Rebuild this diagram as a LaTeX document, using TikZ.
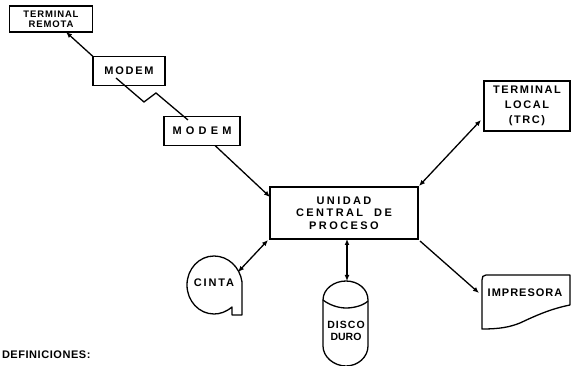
\documentclass[tikz,border=0pt]{standalone}
\usepackage{fontspec}
\setmainfont{Liberation Sans}
\usetikzlibrary{arrows.meta,calc}
\newcommand{\trk}[1]{\addfontfeatures{LetterSpace=#1}}
\tikzset{
 lbl/.style={inner sep=0pt,outer sep=0pt,align=center,font=\fontsize{11}{12}\selectfont\bfseries},
 box/.style={lbl,draw,line width=1.3pt},
 shapeline/.style={line width=1.3pt,line join=round},
 conn/.style={line width=1.3pt},
 one/.style={conn,-{Latex[length=6pt,width=5pt]}},
 two/.style={conn,{Latex[length=6pt,width=5pt]}-{Latex[length=6pt,width=5pt]}}
}
\begin{document}
\begin{tikzpicture}[x=1pt,y=-1pt]
\useasboundingbox (0,0) rectangle (571,366);
% boxes
\node[box,minimum width=83,minimum height=26,font=\fontsize{9.5}{10}\selectfont\bfseries] (rem) at (51,19) {\trk{9}TERMINAL\\\trk{9}REMOTA};
\node[box,minimum width=72,minimum height=29] (mod1) at (129,71) {\trk{16}MODEM};
\node[box,minimum width=76,minimum height=29] (mod2) at (202,131) {\trk{38}MODEM};
\node[box,minimum width=148,minimum height=52,font=\fontsize{11}{12.5}\selectfont\bfseries] (cpu) at (344,213) {\trk{22}UNIDAD\\\trk{22}CENTRAL\ \ DE\\\trk{22}PROCESO};
\node[box,minimum width=86,minimum height=50,font=\fontsize{11}{15}\selectfont\bfseries] (loc) at (527,106) {\trk{14}TERMINAL\\\trk{14}LOCAL\\\trk{14}(TRC)};
% printer
\node[lbl,minimum width=88,minimum height=30] (imp) at (525,293) {\trk{9}IMPRESORA};
\draw[shapeline] (482,280) -- (482,329) .. controls (500,329) and (510,327) .. (520,323) .. controls (535,316) and (550,309) .. (570,305) -- (570,275) -- (486,275) .. controls (483,275) and (482,277) .. (482,280);
% tape
\node[lbl,minimum width=54,minimum height=20] (cinta) at (214,283) {\trk{17}CINTA};
\draw[shapeline] (232,307) .. controls (226,312) and (220,314) .. (214,314) .. controls (199,314) and (187,301) .. (187,285) .. controls (187,269) and (199,256) .. (214,256) .. controls (228,256) and (240,267) .. (242,282) -- (242,315) -- (232,315) -- cycle;
% disk
\node[lbl,minimum width=45,minimum height=30,font=\fontsize{10.5}{12}\selectfont\bfseries] (disco) at (346,331) {\trk{10}DISCO\\DURO};
\draw[shapeline] (323,300) .. controls (323,289) and (334,281) .. (346,281) .. controls (358,281) and (368,289) .. (368,300) -- (368,346) .. controls (368,357) and (358,366) .. (346,366) .. controls (334,366) and (323,357) .. (323,346) -- cycle;
\draw[shapeline] (323,300) .. controls (328,304) and (337,308) .. (346,308) .. controls (355,308) and (364,305) .. (368,301);
% heading
\node[lbl,anchor=west] (def) at (2,355) {\trk{5}DEFINICIONES:};
% connectors
\coordinate (m1out) at (116,78);
\coordinate (z1) at (144,102);
\coordinate (z2) at (156,93);
\coordinate (m2in) at (188,120);
\coordinate (cintaout) at (238,272);
\draw[one] (mod1.north west) -- ([xshift=15]rem.south);
\draw[conn] (m1out) -- (z1) -- (z2) -- (m2in);
\draw[one] ([xshift=13]mod2.south) -- ([yshift=16]cpu.west);
\draw[two] (cintaout) -- ([xshift=-2,yshift=-1]cpu.south west);
\draw[two] ([xshift=3]cpu.south) -- ([xshift=1]disco.north |- 0,281);
\draw[two] ([xshift=-3,yshift=11]loc.south west) -- ([xshift=1,yshift=1]cpu.north east);
\draw[one] ([xshift=2,yshift=-2]cpu.south east) -- ([xshift=-2]imp.west);
\end{tikzpicture}
\end{document}
